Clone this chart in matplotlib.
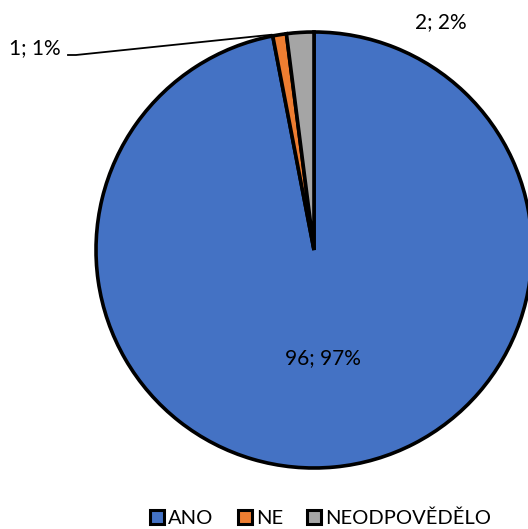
import matplotlib
matplotlib.use("Agg")
import matplotlib.pyplot as plt
import numpy as np
from matplotlib.patches import Patch

categories = ["ANO", "NE", "NEODPOVĚDĚLO"]
values = [96, 1, 2]
colors = ["#4472C4", "#ED7D31", "#A5A5A5"]

plt.rcParams['font.family'] = ['Lato', 'DejaVu Sans']

W, H = 528, 529
fig = plt.figure(figsize=(W/100, H/100), dpi=100)
ax = fig.add_axes([0, 0, 1, 1])

cx, cy, r = 314, H - 250, 218
wedges, _ = ax.pie(values, colors=colors, startangle=90, counterclock=False,
                   center=(cx, cy), radius=r, frame=True,
                   wedgeprops=dict(edgecolor='black', linewidth=2.6))
ax.set_xlim(0, W)
ax.set_ylim(0, H)
ax.set_aspect('equal')
ax.axis('off')

total = sum(values)
labels = [f"{v}; {round(v/total*100)}%" for v in values]
fs = 15
ax.text(323, H - 358, labels[0], ha='center', va='center', fontsize=fs)
ax.text(35, H - 48, labels[1], ha='center', va='center', fontsize=fs)
ax.text(441, H - 22, labels[2], ha='center', va='center', fontsize=fs)

# leader line for NE
w = wedges[1]
mid = np.deg2rad((w.theta1 + w.theta2) / 2)
ex, ey = cx + r*np.cos(mid) - 8, cy + r*np.sin(mid)
ax.plot([68, 76, ex], [H - 55, H - 55, ey], color='black', lw=1.3)

handles = [Patch(facecolor=c, edgecolor='black', linewidth=2.2) for c in colors]
fig.legend(handles, categories, loc='center', bbox_to_anchor=(0.607, 1 - 518/H),
           ncol=3, frameon=False, fontsize=14.5, handlelength=0.7, handleheight=0.7,
           handletextpad=0.2, columnspacing=1.2)

fig.savefig("out.png", dpi=100)
